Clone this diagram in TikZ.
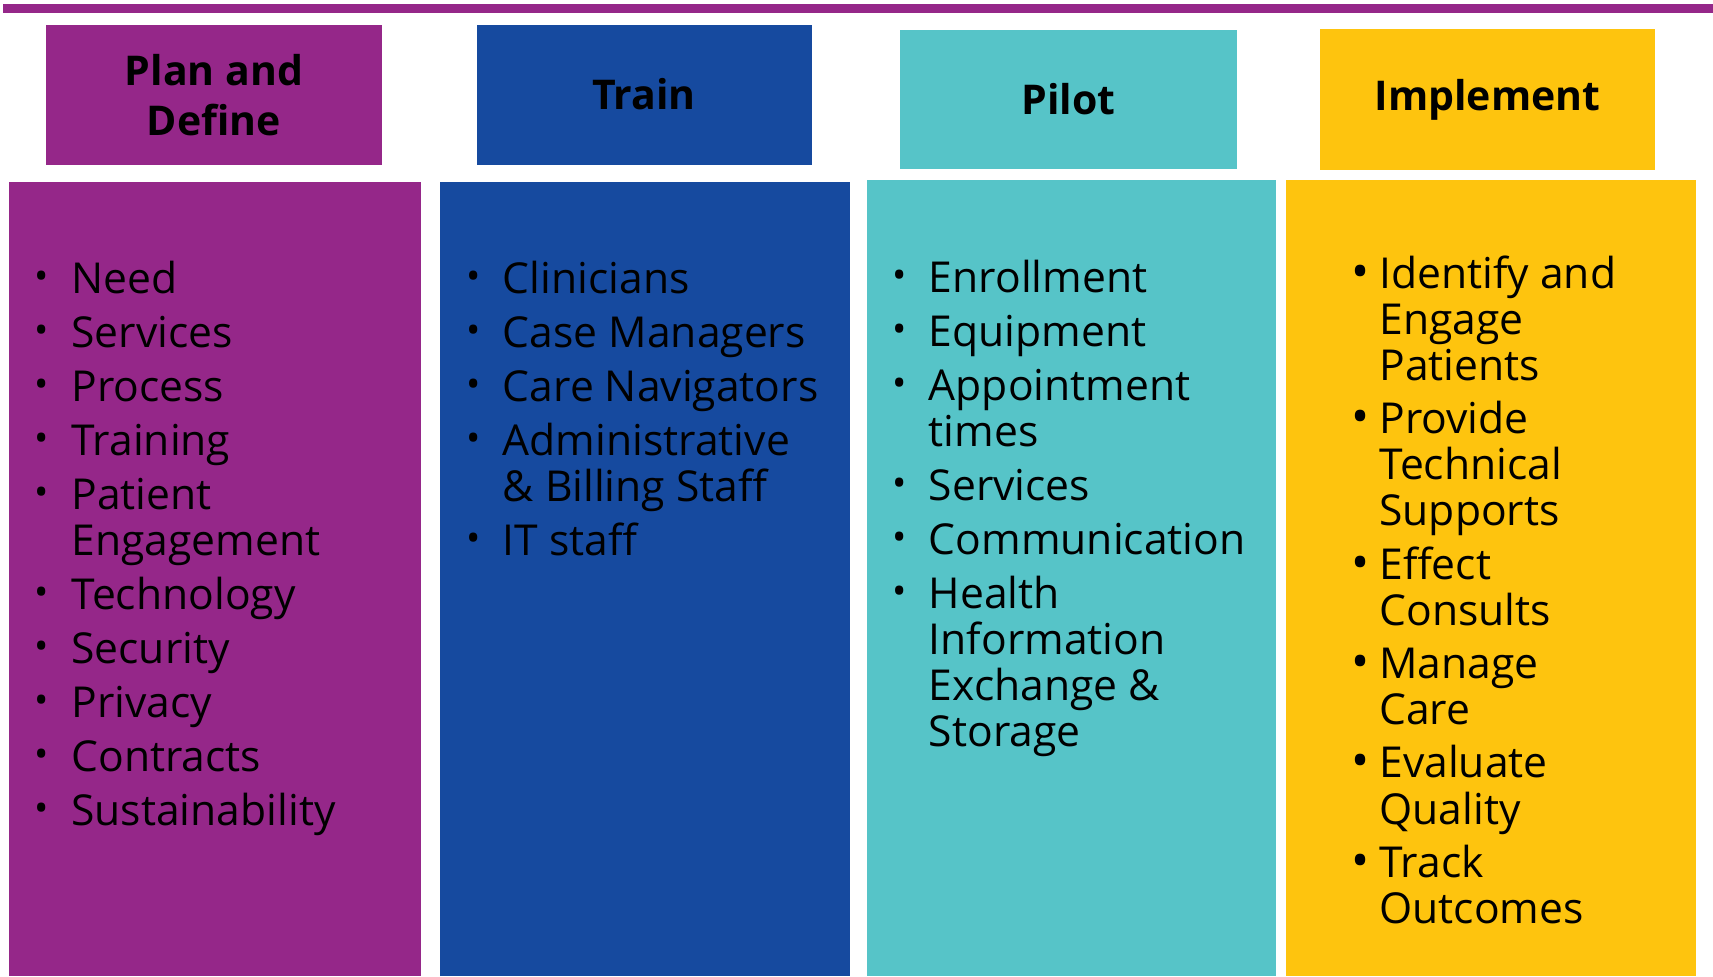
\documentclass[tikz,border=0pt]{standalone}
\usepackage{fontspec}
\setmainfont{Open Sans}
\usepackage{tikz}
\definecolor{plum}{RGB}{149,39,137}
\definecolor{royal}{RGB}{22,74,159}
\definecolor{aqua}{RGB}{86,196,200}
\definecolor{gold}{RGB}{254,196,14}
% bullets: small one for the first three columns, big one for the last
\newcommand{\bs}{\makebox[14.75pt][l]{\makebox[0pt][c]{\raisebox{2pt}{\fontsize{19}{19}\selectfont •}}}}
\newcommand{\bb}{\makebox[9.5pt][l]{\makebox[0pt][c]{\fontsize{24}{24}\selectfont •}}}
\tikzset{
  hdr/.style={inner sep=0pt, align=center, minimum height=70pt,
    font=\bfseries\fontsize{20.5}{25}\selectfont},
  lst/.style={inner sep=0pt, anchor=base west, font=\fontsize{21.3}{23}\selectfont}
}

\begin{document}
\begin{tikzpicture}[x=0.5pt,y=-0.5pt]
\useasboundingbox (0,0) rectangle (1713,976);
\fill [plum] (3,4) rectangle (1713,13);
% headers
\node [hdr, fill=plum, minimum width=168pt] (plan) at (214,95) {Plan and\\Define};
\node [hdr, fill=royal, minimum width=167.5pt] (train) at (644,95) {\raisebox{1pt}{Train}};
\node [hdr, fill=aqua, minimum width=168.5pt, minimum height=69.5pt] (pilot) at (1068.5,99.5) {\raisebox{1pt}{Pilot}};
\node [hdr, fill=gold, minimum width=167.5pt, minimum height=70.5pt] (impl) at (1487.5,99.5) {\raisebox{1.5pt}{Implement}};
% columns
\fill [plum] (9,182) rectangle (421,976);
\fill [royal] (440,182) rectangle (850,976);
\fill [aqua] (867,180) rectangle (1276,976);
\fill [gold] (1286,180) rectangle (1696,976);
\node [lst] (planlist) at (41.5,293) {\begin{tabular}[t]{@{}l@{}l@{}}
\bs & Need\\[4pt]
\bs & Services\\[4pt]
\bs & Process\\[4pt]
\bs & Training\\[4pt]
\bs & Patient\\
    & Engagement\\[4pt]
\bs & Technology\\[4pt]
\bs & Security\\[4pt]
\bs & Privacy\\[4pt]
\bs & Contracts\\[4pt]
\bs & Sustainability
\end{tabular}};
\node [lst] (trainlist) at (473,293) {\begin{tabular}[t]{@{}l@{}l@{}}
\bs & Clinicians\\[4pt]
\bs & Case Managers\\[4pt]
\bs & Care Navigators\\[4pt]
\bs & Administrative\\
    & \& Billing Staff\\[4pt]
\bs & IT staff
\end{tabular}};
\node [lst] (pilotlist) at (899,292) {\begin{tabular}[t]{@{}l@{}l@{}}
\bs & Enrollment\\[4pt]
\bs & Equipment\\[4pt]
\bs & Appointment\\
    & times\\[4pt]
\bs & Services\\[4pt]
\bs & Communication\\[4pt]
\bs & Health\\
    & Information\\
    & Exchange \&\\
    & Storage
\end{tabular}};
\node [lst] (impllist) at (1360,288) {\begin{tabular}[t]{@{}l@{}l@{}}
\bb & Identify and\\
    & Engage\\
    & Patients\\[3.6pt]
\bb & Provide\\
    & Technical\\
    & Supports\\[3.6pt]
\bb & Effect\\
    & Consults\\[3.6pt]
\bb & Manage\\
    & Care\\[3.6pt]
\bb & Evaluate\\
    & Quality\\[3.6pt]
\bb & Track\\
    & Outcomes
\end{tabular}};
\end{tikzpicture}
\end{document}
